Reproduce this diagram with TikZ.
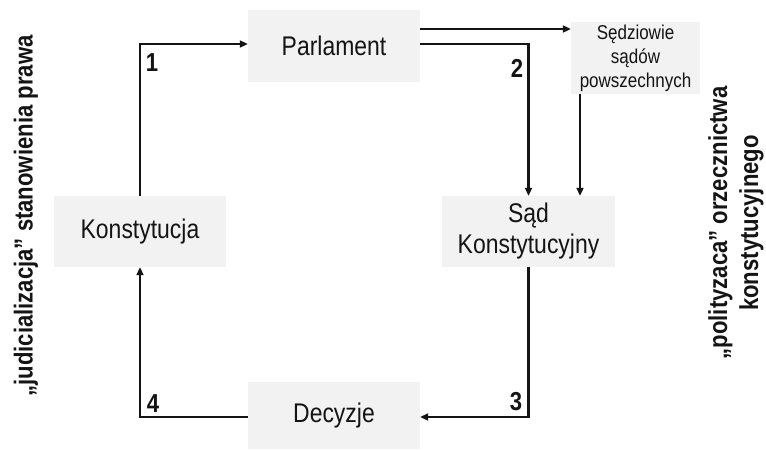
\documentclass[tikz,border=0pt]{standalone}
\usepackage{fontspec}
\setmainfont{Liberation Sans}[FakeStretch=0.85]
\usetikzlibrary{arrows.meta}
\definecolor{boxfill}{RGB}{242,242,242}
\definecolor{ink}{RGB}{20,20,20}
\tikzset{
  box/.style={fill=boxfill, draw=none, inner sep=0pt, text=ink, align=center},
  arr/.style={draw=ink, line width=2.2pt, -{Triangle[length=8pt,width=7pt]}},
  num/.style={font=\fontsize{26}{26}\selectfont\bfseries, text=ink, inner sep=0pt},
  side/.style={font=\fontsize{26}{31}\selectfont\bfseries, text=ink, align=center, rotate=90, inner sep=0pt}
}
\begin{document}
\begin{tikzpicture}[x=1pt,y=-1pt]
\useasboundingbox (0,0) rectangle (766,450);
% boxes
\node[box, minimum width=172pt, minimum height=72pt, font=\fontsize{27}{31}\selectfont] (par) at (334,46) {Parlament};
\node[box, minimum width=129pt, minimum height=72pt, font=\fontsize{20}{24}\selectfont] (sed) at (635.5,58) {Sędziowie\\sądów\\powszechnych};
\node[box, minimum width=173pt, minimum height=71pt, font=\fontsize{27}{31}\selectfont] (sad) at (528.5,231.5) {Sąd\\Konstytucyjny};
\node[box, minimum width=172pt, minimum height=71pt, font=\fontsize{27}{31}\selectfont] (kon) at (140,231.5) {Konstytucja};
\node[box, minimum width=172pt, minimum height=67pt, font=\fontsize{27}{31}\selectfont] (dec) at (334,415.5) {Decyzje};
% side texts
\node[side] (left) at (26,216) {„judicializacja” stanowienia prawa};
\node[side] (right) at (736,223) {„polityzaca” orzecznictwa\\konstytucyjnego};
% connectors
\coordinate (p1) at ([yshift=2pt]par.west);
\draw[arr] (kon.north) |- (p1);
\coordinate (p0) at ([yshift=17pt]par.east);
\draw[arr] (p0) -- (p0 -| sed.west);
\coordinate (p2) at ([yshift=2pt]par.east);
\draw[arr] (p2) -| (sad.north);
\coordinate (s0) at ([xshift=-55.5pt]sed.south);
\draw[arr] (s0) -- (s0 |- sad.north);
\coordinate (d0) at ([yshift=-1.5pt]dec.east);
\draw[arr] (sad.south) |- (d0);
\coordinate (d1) at ([yshift=-1.5pt]dec.west);
\draw[arr] (d1) -| (kon.south);
% numbers
\node[num] (n1) at (152,63) {1};
\node[num] (n2) at (517,68) {2};
\node[num] (n3) at (516,402) {3};
\node[num] (n4) at (153,404) {4};
\end{tikzpicture}
\end{document}
